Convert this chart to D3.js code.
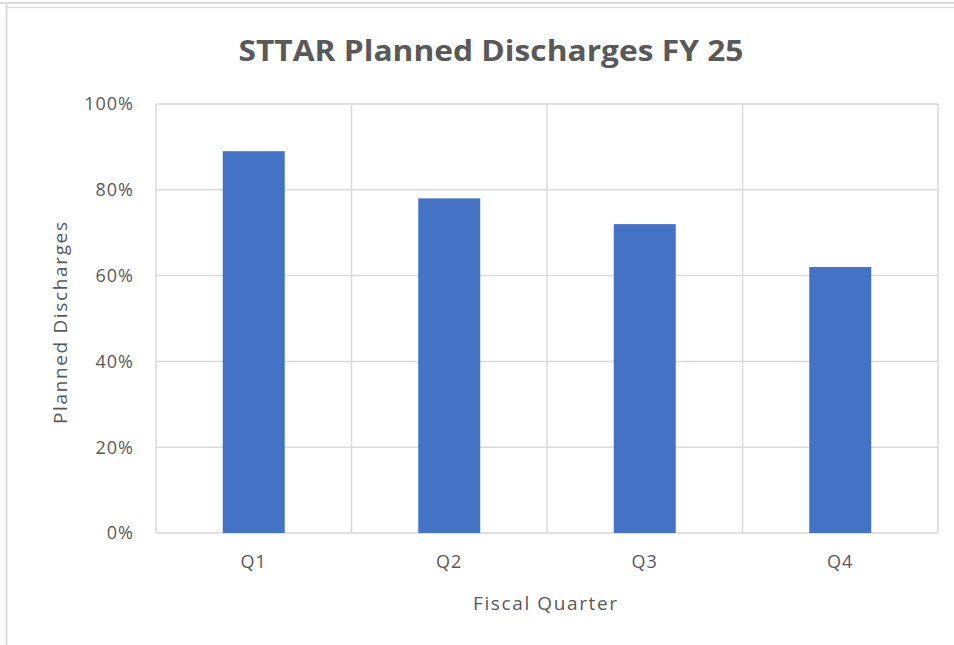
<!DOCTYPE html>
<html><head><meta charset="utf-8">
<script src="https://cdn.jsdelivr.net/npm/d3@7"></script>
<style>body{margin:0;background:#fff}svg{display:block}</style>
</head><body>
<svg id="c" width="954" height="645"></svg>
<script>
const categories = ["Q1", "Q2", "Q3", "Q4"];
const values = [0.89, 0.78, 0.72, 0.62];
const yTicks = [0, 0.2, 0.4, 0.6, 0.8, 1.0];
const title = "STTAR Planned Discharges FY 25";
const xTitle = "Fiscal Quarter";
const yTitle = "Planned Discharges";

const svg = d3.select("#c");
const font = "'Open Sans', 'Noto Sans', sans-serif";
const textColor = "#595959";
const gridColor = "#d9d9d9";

// frame
svg.append("line").attr("x1",0).attr("x2",954).attr("y1",3).attr("y2",3).attr("stroke","#dcdcdc").attr("stroke-width",2);
svg.append("line").attr("x1",6).attr("x2",954).attr("y1",7.5).attr("y2",7.5).attr("stroke","#dcdcdc").attr("stroke-width",1.5);
svg.append("line").attr("x1",6.5).attr("x2",6.5).attr("y1",3).attr("y2",645).attr("stroke","#dcdcdc").attr("stroke-width",2);

const L = 156, R = 938, T = 104, B = 533;
const x = d3.scaleBand().domain(categories).range([L, R]).paddingInner(0.683).paddingOuter(0.3415);
const y = d3.scaleLinear().domain([0, 1]).range([B, T]);

svg.append("g").selectAll("line").data(yTicks).join("line")
  .attr("x1", L).attr("x2", R).attr("y1", d => y(d)).attr("y2", d => y(d))
  .attr("stroke", gridColor).attr("stroke-width", 1.5);
const bounds = d3.range(categories.length + 1).map(i => L + i * (R - L) / categories.length);
svg.append("g").selectAll("line").data(bounds).join("line")
  .attr("x1", d => d).attr("x2", d => d).attr("y1", T).attr("y2", B)
  .attr("stroke", gridColor).attr("stroke-width", 1.5);

svg.append("g").selectAll("rect").data(values).join("rect")
  .attr("x", (d, i) => x(categories[i]))
  .attr("width", x.bandwidth())
  .attr("y", d => y(d))
  .attr("height", d => y(0) - y(d))
  .attr("fill", "#4472C4");

const fmt = d3.format(".0%");
svg.append("g").selectAll("text").data(yTicks).join("text")
  .attr("x", 134).attr("y", d => y(d)).attr("dy", "0.35em")
  .attr("text-anchor", "end").attr("font-family", font).attr("font-size", 18)
  .attr("letter-spacing", "1px")
  .attr("fill", textColor).text(d => fmt(d));

svg.append("g").selectAll("text").data(categories).join("text")
  .attr("x", d => x(d) + x.bandwidth() / 2).attr("y", 562).attr("dy", "0.35em")
  .attr("text-anchor", "middle").attr("font-family", font).attr("font-size", 18)
  .attr("letter-spacing", "1px")
  .attr("fill", textColor).text(d => d);

svg.append("text").attr("x", 491).attr("y", 61).attr("text-anchor", "middle")
  .attr("font-family", font).attr("font-weight", "bold").attr("font-size", 29)
  .attr("textLength", 505).attr("lengthAdjust", "spacingAndGlyphs")
  .attr("fill", textColor).text(title);
svg.append("text").attr("x", 545).attr("y", 603).attr("dy", "0.35em").attr("text-anchor", "middle")
  .attr("font-family", font).attr("font-size", 19)
  .attr("textLength", 144).attr("lengthAdjust", "spacing")
  .attr("fill", textColor).text(xTitle);
svg.append("text").attr("transform", "translate(60,323) rotate(-90)").attr("dy", "0.35em")
  .attr("text-anchor", "middle").attr("font-family", font).attr("font-size", 19)
  .attr("textLength", 202).attr("lengthAdjust", "spacing")
  .attr("fill", textColor).text(yTitle);
</script>
</body></html>
